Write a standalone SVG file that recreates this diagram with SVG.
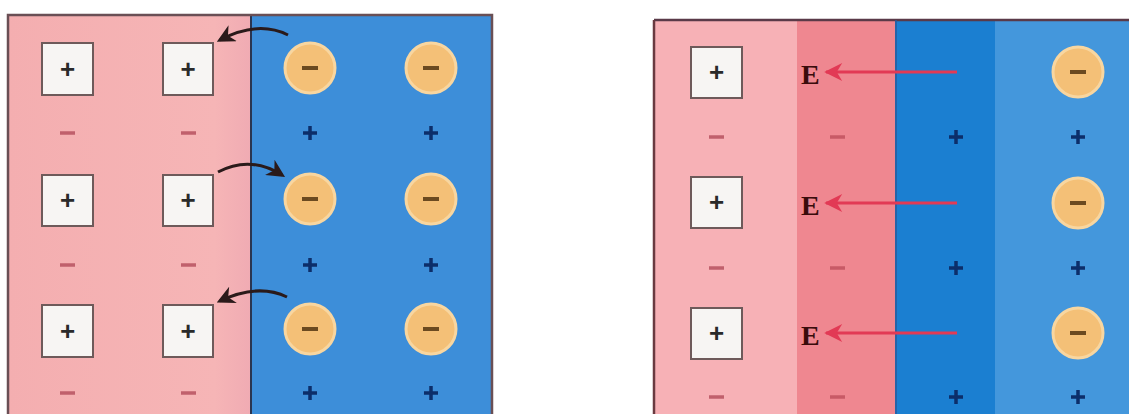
<svg xmlns="http://www.w3.org/2000/svg" width="1129" height="414" viewBox="0 0 1129 414">
<defs>
<style>
.box{fill:#f7f5f3;stroke:#6e5a5a;stroke-width:2}
.bplus{font-family:"Liberation Sans",sans-serif;font-size:26px;font-weight:bold;fill:#2a2a2a;text-anchor:middle}
.pm{stroke:#c0606c;stroke-width:3.5}
.ion{fill:#f4c077;stroke:#f8d6a0;stroke-width:3}
.im{stroke:#6b4a20;stroke-width:4}
.bp{stroke:#0c2e6a;stroke-width:3.5}
.E{font-family:"Liberation Serif",serif;font-size:28px;font-weight:bold;fill:#3a0c0c}
.red{stroke:#e23a55;stroke-width:3;fill:none}
.curve{stroke:#2a1a1a;stroke-width:3;fill:none}
</style>
<linearGradient id="lp" x1="0" x2="1" y1="0" y2="0">
<stop offset="0" stop-color="#f4aeb0"/><stop offset="0.85" stop-color="#f6b5b6"/><stop offset="1" stop-color="#f0abb3"/>
</linearGradient>
<marker id="ah" viewBox="0 0 10 10" refX="8" refY="5" markerWidth="6" markerHeight="6" orient="auto">
<path d="M0,0 L10,5 L0,10 L3,5 z" fill="#2a1a1a"/>
</marker>
<marker id="rh" viewBox="0 0 10 10" refX="9" refY="5" markerWidth="8" markerHeight="6" orient="auto">
<path d="M0,0 L10,5 L0,10 L3,5 z" fill="#e23a55"/>
</marker>
</defs>
<rect width="1129" height="414" fill="#ffffff"/>

<g id="left-panel">
<rect x="8" y="15" width="243" height="399" fill="url(#lp)"/>
<rect x="251" y="15" width="241" height="399" fill="#3d8ed9"/>
<line x1="251" y1="15" x2="251" y2="414" stroke="#2a3550" stroke-width="2"/>
<rect x="8" y="15" width="484" height="402" fill="none" stroke="#6a4f55" stroke-width="2.5"/>
</g>

<g id="right-panel">
<rect x="654" y="20" width="143" height="394" fill="#f7b1b6"/>
<rect x="797" y="20" width="98" height="394" fill="#ef8790"/>
<rect x="895" y="20" width="100" height="394" fill="#1b7fd1"/>
<rect x="995" y="20" width="134" height="394" fill="#4497dc"/>
<line x1="654" y1="20" x2="1129" y2="20" stroke="#5a3a48" stroke-width="2.5"/>
<line x1="654" y1="20" x2="654" y2="414" stroke="#6a3a40" stroke-width="2.5"/>
<line x1="896" y1="20" x2="896" y2="414" stroke="#2a5a9a" stroke-width="1.5"/>
</g>

<g id="left-ions">
<g id="L-box-1-1"><rect class="box" x="42" y="43" width="51" height="52"/><text class="bplus" x="67.5" y="78">+</text></g>
<g id="L-box-1-2"><rect class="box" x="163" y="43" width="50" height="52"/><text class="bplus" x="188" y="78">+</text></g>
<g id="L-box-2-1"><rect class="box" x="42" y="175" width="51" height="51"/><text class="bplus" x="67.5" y="209">+</text></g>
<g id="L-box-2-2"><rect class="box" x="163" y="175" width="50" height="51"/><text class="bplus" x="188" y="209">+</text></g>
<g id="L-box-3-1"><rect class="box" x="42" y="305" width="51" height="52"/><text class="bplus" x="67.5" y="340">+</text></g>
<g id="L-box-3-2"><rect class="box" x="163" y="305" width="50" height="52"/><text class="bplus" x="188" y="340">+</text></g>
<g id="L-minus">
<line class="pm" x1="60" y1="133" x2="75" y2="133"/><line class="pm" x1="181" y1="133" x2="196" y2="133"/>
<line class="pm" x1="60" y1="265" x2="75" y2="265"/><line class="pm" x1="181" y1="265" x2="196" y2="265"/>
<line class="pm" x1="60" y1="393" x2="75" y2="393"/><line class="pm" x1="181" y1="393" x2="196" y2="393"/>
</g>
<g id="L-circles">
<circle class="ion" cx="310" cy="68" r="25"/><line class="im" x1="302" y1="68" x2="318" y2="68"/>
<circle class="ion" cx="431" cy="68" r="25"/><line class="im" x1="423" y1="68" x2="439" y2="68"/>
<circle class="ion" cx="310" cy="199" r="25"/><line class="im" x1="302" y1="199" x2="318" y2="199"/>
<circle class="ion" cx="431" cy="199" r="25"/><line class="im" x1="423" y1="199" x2="439" y2="199"/>
<circle class="ion" cx="310" cy="329" r="25"/><line class="im" x1="302" y1="329" x2="318" y2="329"/>
<circle class="ion" cx="431" cy="329" r="25"/><line class="im" x1="423" y1="329" x2="439" y2="329"/>
</g>
<g id="L-plus">
<path class="bp" d="M303,133 h14 M310,126 v14 M424,133 h14 M431,126 v14"/>
<path class="bp" d="M303,265 h14 M310,258 v14 M424,265 h14 M431,258 v14"/>
<path class="bp" d="M303,393 h14 M310,386 v14 M424,393 h14 M431,386 v14"/>
</g>
</g>

<g id="right-ions">
<g id="R-box-1"><rect class="box" x="691" y="47" width="51" height="51"/><text class="bplus" x="716.5" y="81">+</text></g>
<g id="R-box-2"><rect class="box" x="691" y="177" width="51" height="51"/><text class="bplus" x="716.5" y="211">+</text></g>
<g id="R-box-3"><rect class="box" x="691" y="308" width="51" height="51"/><text class="bplus" x="716.5" y="342">+</text></g>
<g id="R-minus">
<line class="pm" x1="709" y1="137" x2="724" y2="137"/><line class="pm" x1="830" y1="137" x2="845" y2="137" style="stroke:#c85a66"/>
<line class="pm" x1="709" y1="268" x2="724" y2="268"/><line class="pm" x1="830" y1="268" x2="845" y2="268" style="stroke:#c85a66"/>
<line class="pm" x1="709" y1="397" x2="724" y2="397"/><line class="pm" x1="830" y1="397" x2="845" y2="397" style="stroke:#c85a66"/>
</g>
<g id="R-circles">
<circle class="ion" cx="1078" cy="72" r="25"/><line class="im" x1="1070" y1="72" x2="1086" y2="72"/>
<circle class="ion" cx="1078" cy="203" r="25"/><line class="im" x1="1070" y1="203" x2="1086" y2="203"/>
<circle class="ion" cx="1078" cy="333" r="25"/><line class="im" x1="1070" y1="333" x2="1086" y2="333"/>
</g>
<g id="R-plus">
<path class="bp" d="M949,137 h14 M956,130 v14 M1071,137 h14 M1078,130 v14"/>
<path class="bp" d="M949,268 h14 M956,261 v14 M1071,268 h14 M1078,261 v14"/>
<path class="bp" d="M949,397 h14 M956,390 v14 M1071,397 h14 M1078,390 v14"/>
</g>
<g id="E-labels">
<text class="E" x="801" y="84">E</text>
<text class="E" x="801" y="215">E</text>
<text class="E" x="801" y="345">E</text>
</g>
</g>

<g id="connectors">
<path class="curve" marker-end="url(#ah)" d="M288,35 Q258,20 220,40"/>
<path class="curve" marker-end="url(#ah)" d="M218,172 Q250,155 282,175"/>
<path class="curve" marker-end="url(#ah)" d="M287,297 Q258,283 220,301"/>
<line class="red" marker-end="url(#rh)" x1="957" y1="72" x2="826" y2="72"/>
<line class="red" marker-end="url(#rh)" x1="957" y1="203" x2="826" y2="203"/>
<line class="red" marker-end="url(#rh)" x1="957" y1="333" x2="826" y2="333"/>
</g>
</svg>
